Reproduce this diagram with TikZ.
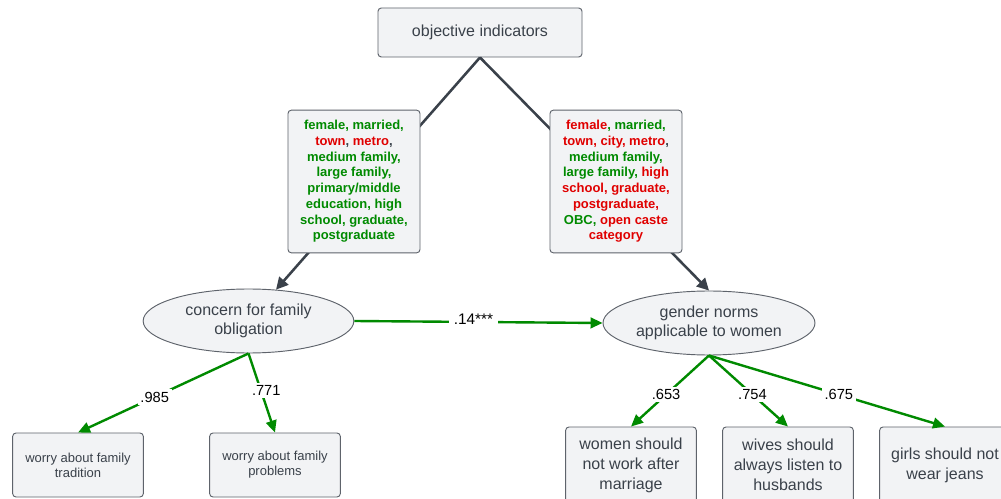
\documentclass[tikz,border=0pt]{standalone}
\usepackage{fontspec}
\setmainfont{Liberation Sans}
\usetikzlibrary{shapes.geometric}
\usetikzlibrary{arrows.meta}
\usepackage{xcolor}
\definecolor{boxfill}{HTML}{F2F3F5}
\definecolor{boxline}{HTML}{5E636B}
\definecolor{txtgray}{HTML}{3A414A}
\definecolor{pathgreen}{HTML}{008A00}
\definecolor{sigred}{HTML}{E00000}
\newcommand{\sigG}[1]{\textcolor{pathgreen}{#1}}
\newcommand{\sigR}[1]{\textcolor{sigred}{#1}}
\newcommand{\sep}[1]{\textcolor{txtgray}{#1}}

\begin{document}
\begin{tikzpicture}[x=0.75pt,y=-0.75pt,
  rbox/.style={draw=boxline,fill=boxfill,rounded corners=2.5pt,line width=0.7pt,text=txtgray,align=center,inner sep=0pt},
  latent/.style={ellipse,draw=boxline,fill=boxfill,line width=0.7pt,text=txtgray,align=center,minimum width=158pt,minimum height=48pt,inner sep=0pt,font=\fontsize{12}{14.5}\selectfont},
  covlist/.style={rbox,minimum width=99pt,minimum height=107pt,font=\bfseries\fontsize{9.75}{11.8}\selectfont},
  indsmall/.style={rbox,minimum width=98pt,minimum height=48pt,font=\fontsize{9.75}{11.25}\selectfont},
  indbig/.style={rbox,minimum width=98pt,minimum height=57pt,font=\fontsize{12}{15}\selectfont},
  dpath/.style={draw=txtgray,line width=1.9pt,-{Triangle[length=9pt,width=9pt]}},
  gpath/.style={draw=pathgreen,line width=1.8pt,-{Triangle[length=9pt,width=8pt]}},
  coef/.style={fill=white,inner sep=2pt,font=\fontsize{11}{13}\selectfont}]

\clip (0,0) rectangle (1001,499);
\fill[white] (0,0) rectangle (1001,499);

\node[rbox,minimum width=153pt,minimum height=36.75pt,font=\fontsize{12}{14.5}\selectfont] (obj) at (480,32.5) {objective indicators};

\node[latent] (conc) at (248.5,321) {concern for family\\obligation};
\node[latent,minimum width=159pt] (gen) at (709,323) {gender norms\\applicable to women};

%% bottom indicators
\node[indsmall] (trad) at (78,465) {worry about family\\tradition};
\node[indsmall] (prob) at (275,465) {worry about family\\problems};
\node[indbig] (work) at (631,465) {women should\\not work after\\marriage};
\node[indbig] (wive) at (788,465) {wives should\\always listen to\\husbands};
\node[indbig] (jean) at (945,465) {girls should not\\wear jeans};

\draw[dpath] (obj.south) -- (conc);
\draw[dpath] (obj.south) -- (gen.north);

\node[covlist] (covl) at (354,181.5) {\sigG{female, married,}\\
\sigR{town}\sep{,} \sigR{metro}\sep{,}\\
\sigG{medium family,}\\
\sigG{large family,}\\
\sigG{primary/middle}\\
\sigG{education, high}\\
\sigG{school, graduate,}\\
\sigG{postgraduate}};

\node[covlist] (covr) at (616,181.5) {\sigR{female}\sigG{, married,}\\
\sigR{town, city, metro}\sep{,}\\
\sigG{medium family,}\\
\sigG{large family,} \sigR{high}\\
\sigR{school, graduate,}\\
\sigR{postgraduate,}\\
\sigG{OBC,} \sigR{open caste}\\
\sigR{category}};

\draw[gpath] (conc.east) -- node[coef,pos=0.48,yshift=2pt,inner xsep=4pt,font=\fontsize{11.5}{13}\selectfont] (c14) {.14***} (gen.west);

\draw[gpath] (conc.south) -- node[coef,pos=0.55] (c985) {.985} (trad.north);
\draw[gpath] (conc.south) -- node[coef,pos=0.47,xshift=4pt] (c771) {.771} (prob.north);

\draw[gpath] (gen.south) -- node[coef,pos=0.55] (c653) {.653} (work.north);
\draw[gpath] (gen.south) -- node[coef,pos=0.55] (c754) {.754} (wive.north);
\draw[gpath] (gen.south) -- node[coef,pos=0.55] (c675) {.675} (jean.north);

\end{tikzpicture}
\end{document}
